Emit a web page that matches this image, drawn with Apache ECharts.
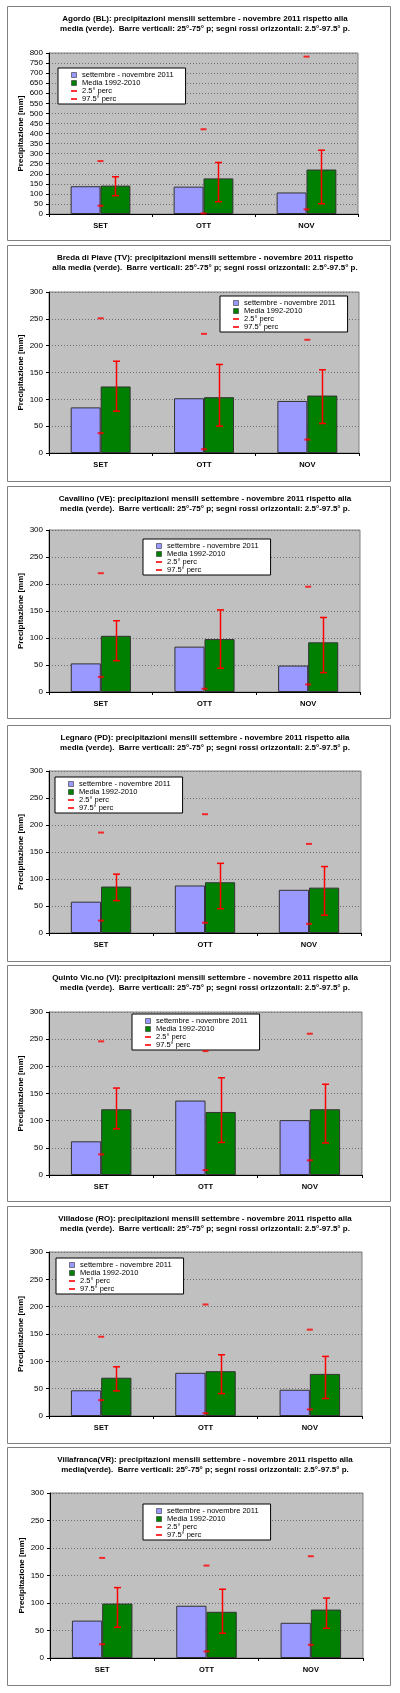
<!DOCTYPE html>
<html>
<head>
<meta charset="utf-8">
<script src="https://cdn.jsdelivr.net/npm/echarts@6/dist/echarts.min.js"></script>
<style>
html,body{margin:0;padding:0;background:#fff;}
#c{width:400px;height:1693px;}
</style>
</head>
<body>
<div id="c"></div>
<script>
// ---- data ----
const categories = ['SET', 'OTT', 'NOV'];
const stationTitles = [
  'Agordo (BL): precipitazioni mensili settembre - novembre 2011 rispetto alla\nmedia (verde).  Barre verticali: 25°-75° p; segni rossi orizzontali: 2.5°-97.5° p.',
  'Breda di Piave (TV): precipitazioni mensili settembre - novembre 2011 rispetto\nalla media (verde).  Barre verticali: 25°-75° p; segni rossi orizzontali: 2.5°-97.5° p.',
  'Cavallino (VE): precipitazioni mensili settembre - novembre 2011 rispetto alla\nmedia (verde).  Barre verticali: 25°-75° p; segni rossi orizzontali: 2.5°-97.5° p.',
  'Legnaro (PD): precipitazioni mensili settembre - novembre 2011 rispetto alla\nmedia (verde).  Barre verticali: 25°-75° p; segni rossi orizzontali: 2.5°-97.5° p.',
  'Quinto Vic.no (VI): precipitazioni mensili settembre - novembre 2011 rispetto alla\nmedia (verde).  Barre verticali: 25°-75° p; segni rossi orizzontali: 2.5°-97.5° p.',
  'Villadose (RO): precipitazioni mensili settembre - novembre 2011 rispetto alla\nmedia (verde).  Barre verticali: 25°-75° p; segni rossi orizzontali: 2.5°-97.5° p.',
  'Villafranca(VR): precipitazioni mensili settembre - novembre 2011 rispetto alla\nmedia(verde).  Barre verticali: 25°-75° p; segni rossi orizzontali: 2.5°-97.5° p.'
];
const seriesNames = ['settembre - novembre 2011', 'Media 1992-2010', '2.5° perc', '97.5° perc'];
const yAxisName = 'Precipitazione [mm]';
const obs2011 = [[138,136,107],[85,102,97],[53,84,49],[58,88,80],[62,137,101],[47,79,48],[68,95,64]];
const mean9210 = [[141,177,221],[124,104,107],[104,98,92],[86,94,84],[121,116,121],[70,82,77],[99,84,88]];
const p25 = [[91,61,51],[78,50,55],[58,44,36],[60,45,33],[85,60,59],[46,41,32],[56,45,54]];
const p75 = [[185,256,317],[171,165,155],[132,152,138],[109,129,123],[160,179,167],[90,112,109],[128,125,109]];
const p025 = [[41,3,23],[37,7,25],[28,6,14],[23,19,17],[38,9,27],[29,5,12],[25,12,24]];
const p975 = [[263,421,782],[251,222,211],[220,null,195],[186,220,165],[246,228,260],[145,204,158],[182,168,185]];
const yMax = [800,300,300,300,300,300,300];
const yInterval = [50,50,50,50,50,50,50];

// ---- layout ----
const panelTop = [6,245,486,725,965,1206,1447];
const panelBottom = [240,481,718,961,1201,1443,1685];
const plotTop = [53,292,530,771,1012,1252,1493];
const plotBottom = [214,453,692,933,1175,1416,1658];
const plotLeft = [49,49,49,49,49,49,50];
const plotRight = [358,359,360,361,362,362,363];
const legendPos = [[58,68],[220,296],[143,539],[55,777],[132,1014],[56,1258],[143,1504]];

const FONT = '"Liberation Sans", Arial, sans-serif';
const SQ = 'path://M0,0h5v5h-5z';
const DASH = 'path://M0,0h6v2h-6z';

const option = {
  animation: false,
  backgroundColor: '#fff',
  title: [], legend: [], grid: [], xAxis: [], yAxis: [], series: [], graphic: []
};

for (let i = 0; i < 7; i++) {
  option.graphic.push({
    type: 'rect', z: -10,
    shape: {x: 7.5, y: panelTop[i] + 0.5, width: 383, height: panelBottom[i] - panelTop[i]},
    style: {fill: '#fff', stroke: '#808080', lineWidth: 1}
  });
  option.title.push({
    text: stationTitles[i], left: 200, top: panelTop[i] + 3, textAlign: 'center',
    textStyle: {fontFamily: FONT, fontSize: 8, fontWeight: 'bold', lineHeight: 10, color: '#000'}
  });
  option.legend.push({
    orient: 'vertical', left: legendPos[i][0], top: legendPos[i][1],
    backgroundColor: '#fff', borderColor: '#000', borderWidth: 1,
    padding: [3, 12, 1, 13], itemGap: 0, itemWidth: 6, itemHeight: 5,
    symbolKeepAspect: true,
    selectedMode: false,
    itemStyle: {borderWidth: 0.6},
    textStyle: {fontFamily: FONT, fontSize: 7.5, lineHeight: 7, color: '#000'},
    data: [
      {name: seriesNames[0], icon: SQ},
      {name: seriesNames[1], icon: SQ},
      {name: seriesNames[2], icon: DASH, itemStyle: {borderWidth: 0}},
      {name: seriesNames[3], icon: DASH, itemStyle: {borderWidth: 0}}
    ]
  });
  option.grid.push({
    left: plotLeft[i], top: plotTop[i],
    width: plotRight[i] - plotLeft[i], height: plotBottom[i] - plotTop[i],
    show: true, backgroundColor: '#c0c0c0', borderColor: '#808080', borderWidth: 1,
    containLabel: false
  });
  option.xAxis.push({
    type: 'category', gridIndex: i, data: categories,
    axisLine: {lineStyle: {color: '#000', width: 1}},
    axisTick: {show: true, length: 3, lineStyle: {color: '#000'}},
    axisLabel: {fontFamily: FONT, fontSize: 7.5, fontWeight: 'bold', color: '#000', margin: 8},
    splitLine: {show: false}
  });
  option.yAxis.push({
    type: 'value', gridIndex: i, min: 0, max: yMax[i], interval: yInterval[i],
    name: yAxisName, nameLocation: 'middle', nameGap: 24, nameRotate: 90,
    nameMoveOverlap: false,
    nameTextStyle: {fontFamily: FONT, fontSize: 8, fontWeight: 'bold', color: '#000'},
    axisLine: {show: true, lineStyle: {color: '#000', width: 1}},
    axisTick: {show: true, length: 3, lineStyle: {color: '#000'}},
    axisLabel: {fontFamily: FONT, fontSize: 8, color: '#000', margin: 6},
    splitLine: {show: true, lineStyle: {color: '#707070', type: [1, 2], width: 1}}
  });
  option.series.push({
    name: seriesNames[0], type: 'bar', xAxisIndex: i, yAxisIndex: i,
    data: obs2011[i], barGap: '0%', barCategoryGap: '42%',
    itemStyle: {color: '#9999ff', borderColor: '#333', borderWidth: 1}
  });
  option.series.push({
    name: seriesNames[1], type: 'bar', xAxisIndex: i, yAxisIndex: i,
    data: mean9210[i], barGap: '0%', barCategoryGap: '42%',
    itemStyle: {color: '#008000', borderColor: '#333', borderWidth: 1}
  });
  option.series.push({
    name: 'iqr', type: 'custom', xAxisIndex: i, yAxisIndex: i, z: 5,
    data: categories.map((c, k) => [k, p25[i][k], p75[i][k]]),
    renderItem: function (params, api) {
      const k = api.value(0);
      const lo = api.coord([k, api.value(1)]);
      const hi = api.coord([k, api.value(2)]);
      const band = api.size([1, 0])[0];
      const x = Math.round(lo[0] + band * 0.145) + 0.5;
      const cap = 3.5;
      const st = {stroke: '#ff0000', lineWidth: 1.5};
      return {type: 'group', children: [
        {type: 'line', shape: {x1: x, y1: lo[1], x2: x, y2: hi[1]}, style: st},
        {type: 'line', shape: {x1: x - cap, y1: hi[1], x2: x + cap, y2: hi[1]}, style: st},
        {type: 'line', shape: {x1: x - cap, y1: lo[1], x2: x + cap, y2: lo[1]}, style: st}
      ]};
    }
  });
  option.series.push({
    name: seriesNames[2], type: 'scatter', xAxisIndex: i, yAxisIndex: i, z: 6,
    data: p025[i], symbol: 'rect', symbolSize: [6, 2], itemStyle: {color: '#ff0000'}
  });
  option.series.push({
    name: seriesNames[3], type: 'scatter', xAxisIndex: i, yAxisIndex: i, z: 6,
    data: p975[i], symbol: 'rect', symbolSize: [6, 2], itemStyle: {color: '#ff0000'}
  });
}

const chart = echarts.init(document.getElementById('c'), null, {renderer: 'canvas'});
chart.setOption(option);
</script>
</body>
</html>
